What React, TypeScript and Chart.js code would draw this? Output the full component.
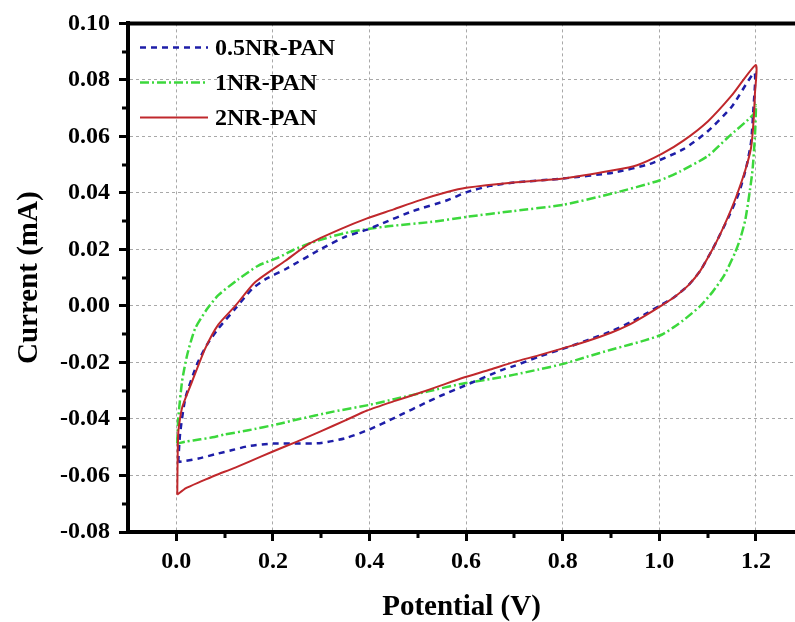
import React, { useEffect, useRef } from "react";
import { Chart, registerables } from "chart.js";

Chart.register(...registerables);

// ---- axis ticks ----
const xMajor = [0, 0.2, 0.4, 0.6, 0.8, 1.0, 1.2];
const xMinor = [0.1, 0.3, 0.5, 0.7, 0.9, 1.1];
const yMajor = [-0.08, -0.06, -0.04, -0.02, 0.0, 0.02, 0.04, 0.06, 0.08, 0.1];
const yMinor = [-0.07, -0.05, -0.03, -0.01, 0.01, 0.03, 0.05, 0.07, 0.09];

// ---- series labels ----
const seriesNames = ["0.5NR-PAN", "1NR-PAN", "2NR-PAN"];

// ---- 0.5NR-PAN (blue) ----
const blueUpperV = [0.004, 0.008, 0.019, 0.043, 0.064, 0.087, 0.122, 0.157, 0.184, 0.226, 0.3, 0.35, 0.395, 0.422, 0.49, 0.561, 0.6, 0.65, 0.7, 0.8, 0.905, 0.981, 1.05, 1.101, 1.15, 1.197];
const blueUpperI = [-0.0552, -0.045, -0.0325, -0.0206, -0.0136, -0.008, -0.001, 0.006, 0.0094, 0.013, 0.0202, 0.0245, 0.027, 0.0289, 0.0336, 0.0374, 0.0402, 0.0425, 0.0437, 0.0451, 0.0472, 0.0503, 0.0555, 0.0619, 0.0705, 0.0825];
const blueLowerV = [1.195, 1.19, 1.18, 1.165, 1.145, 1.125, 1.11, 1.085, 1.06, 1.03, 1.0, 0.97, 0.94, 0.9, 0.85, 0.8, 0.75, 0.7, 0.675, 0.6, 0.55, 0.522, 0.453, 0.4, 0.35, 0.3, 0.25, 0.2, 0.15, 0.116, 0.08, 0.046, 0.02, 0.004];
const blueLowerI = [0.07, 0.058, 0.049, 0.04, 0.032, 0.025, 0.02, 0.0125, 0.0073, 0.003, 0.0, -0.003, -0.0058, -0.009, -0.0122, -0.0152, -0.018, -0.0212, -0.0226, -0.028, -0.0316, -0.0338, -0.0395, -0.0437, -0.0468, -0.0485, -0.0487, -0.0487, -0.0496, -0.051, -0.0525, -0.054, -0.0548, -0.0552];

// ---- 1NR-PAN (green) ----
const greenUpperV = [0.002, 0.004, 0.012, 0.023, 0.039, 0.064, 0.087, 0.128, 0.17, 0.211, 0.242, 0.277, 0.32, 0.36, 0.4, 0.443, 0.526, 0.6, 0.698, 0.801, 0.905, 1.0, 1.043, 1.1, 1.143, 1.195, 1.2];
const greenUpperI = [-0.0486, -0.04, -0.0266, -0.017, -0.008, -0.001, 0.0038, 0.0094, 0.0143, 0.0171, 0.0198, 0.0222, 0.0245, 0.0262, 0.0273, 0.0283, 0.0297, 0.0315, 0.0336, 0.0358, 0.0399, 0.0444, 0.0476, 0.053, 0.0598, 0.0678, 0.071];
const greenLowerV = [1.198, 1.193, 1.186, 1.178, 1.168, 1.157, 1.135, 1.11, 1.085, 1.054, 1.03, 1.006, 0.97, 0.936, 0.9, 0.85, 0.799, 0.75, 0.7, 0.66, 0.592, 0.522, 0.453, 0.4, 0.325, 0.25, 0.211, 0.149, 0.1, 0.075, 0.05, 0.02, 0.004];
const greenLowerI = [0.06, 0.048, 0.039, 0.0304, 0.024, 0.0189, 0.011, 0.0049, 0.0, -0.0045, -0.0075, -0.0101, -0.0122, -0.0138, -0.0155, -0.018, -0.0206, -0.0225, -0.0243, -0.0256, -0.0275, -0.0302, -0.0329, -0.035, -0.0374, -0.0402, -0.0418, -0.044, -0.0455, -0.0465, -0.0472, -0.048, -0.0486];

// ---- 2NR-PAN (red) ----
const redUpperV = [0.002, 0.004, 0.012, 0.033, 0.06, 0.087, 0.122, 0.163, 0.226, 0.277, 0.34, 0.395, 0.45, 0.5, 0.561, 0.6, 0.698, 0.801, 0.905, 0.954, 1.006, 1.05, 1.101, 1.15, 1.2];
const redUpperI = [-0.0668, -0.045, -0.036, -0.0266, -0.015, -0.0066, 0.0, 0.0084, 0.016, 0.0222, 0.0272, 0.031, 0.0342, 0.0372, 0.0403, 0.0418, 0.0437, 0.0451, 0.048, 0.0498, 0.0539, 0.0585, 0.0654, 0.0745, 0.0853];
const redLowerV = [1.198, 1.195, 1.19, 1.178, 1.16, 1.143, 1.125, 1.11, 1.085, 1.06, 1.03, 1.006, 0.97, 0.936, 0.9, 0.85, 0.8, 0.75, 0.7, 0.65, 0.592, 0.55, 0.5, 0.453, 0.395, 0.35, 0.3, 0.25, 0.2, 0.15, 0.118, 0.08, 0.05, 0.02, 0.002];
const redLowerI = [0.075, 0.065, 0.056, 0.048, 0.039, 0.0318, 0.025, 0.02, 0.0125, 0.0073, 0.003, 0.0003, -0.0035, -0.0068, -0.0095, -0.0125, -0.015, -0.0175, -0.0198, -0.0225, -0.0255, -0.028, -0.031, -0.0336, -0.037, -0.0405, -0.0443, -0.048, -0.0515, -0.0552, -0.0575, -0.06, -0.0622, -0.0645, -0.0668];

const FONT = "'Liberation Serif', 'Times New Roman', serif";

function loop(uv: number[], ui: number[], lv: number[], li: number[]) {
  const pts = uv.map((v, k) => ({ x: v, y: ui[k] }));
  return pts.concat(lv.map((v, k) => ({ x: v, y: li[k] })));
}

const extrasPlugin = {
  id: "extras",
  afterDraw(chart: any) {
    const { ctx, chartArea, scales } = chart;
    const { left, right, top, bottom } = chartArea;
    ctx.save();
    // top frame
    ctx.strokeStyle = "#000";
    ctx.lineWidth = 4;
    ctx.beginPath();
    ctx.moveTo(left - 2, top);
    ctx.lineTo(right, top);
    ctx.stroke();
    // minor ticks
    ctx.lineWidth = 3;
    ctx.beginPath();
    for (const v of xMinor) {
      const px = Math.round(scales.x.getPixelForValue(v));
      ctx.moveTo(px, bottom);
      ctx.lineTo(px, bottom + 6);
    }
    for (const v of yMinor) {
      const py = Math.round(scales.y.getPixelForValue(v));
      ctx.moveTo(left, py);
      ctx.lineTo(left - 6, py);
    }
    ctx.stroke();
    // legend
    const rows = [41, 76, 111];
    chart.data.datasets.forEach((ds: any, k: number) => {
      const y = top + rows[k] - 17;
      ctx.strokeStyle = ds.borderColor;
      ctx.lineWidth = ds.borderWidth;
      ctx.setLineDash(ds.borderDash || []);
      ctx.beginPath();
      ctx.moveTo(left + 12, y);
      ctx.lineTo(left + 80, y);
      ctx.stroke();
      ctx.setLineDash([]);
      ctx.fillStyle = "#000";
      ctx.font = `bold 24px ${FONT}`;
      ctx.textBaseline = "middle";
      ctx.textAlign = "left";
      ctx.fillText(ds.label, left + 87, y + 1);
    });
    ctx.restore();
  },
};

export default function App() {
  const ref = useRef<HTMLCanvasElement | null>(null);

  useEffect(() => {
    if (!ref.current) return;
    const chart = new Chart(ref.current, {
      type: "scatter",
      data: {
        datasets: [
          {
            label: seriesNames[0],
            data: loop(blueUpperV, blueUpperI, blueLowerV, blueLowerI),
            borderColor: "#1e1ea8",
            borderWidth: 2.5,
            borderDash: [6, 5],
            showLine: true,
            pointRadius: 0,
            tension: 0.2,
            order: 1,
          },
          {
            label: seriesNames[1],
            data: loop(greenUpperV, greenUpperI, greenLowerV, greenLowerI),
            borderColor: "#3cd83c",
            borderWidth: 2.5,
            borderDash: [9, 3, 2, 3],
            showLine: true,
            pointRadius: 0,
            tension: 0.2,
            order: 2,
          },
          {
            label: seriesNames[2],
            data: loop(redUpperV, redUpperI, redLowerV, redLowerI),
            borderColor: "#c0282c",
            borderWidth: 2,
            borderDash: [],
            showLine: true,
            pointRadius: 0,
            tension: 0.2,
            order: 0,
          },
        ],
      },
      options: {
        animation: false,
        responsive: false,
        maintainAspectRatio: false,
        layout: { padding: { top: 17, right: 0, left: 0, bottom: 0 } },
        plugins: { legend: { display: false }, tooltip: { enabled: false } },
        scales: {
          x: {
            type: "linear",
            min: -0.1,
            max: 1.281,
            afterBuildTicks: (s: any) => {
              s.ticks = xMajor.map((v) => ({ value: v }));
            },
            afterFit: (s: any) => {
              s.height = 90;
            },
            ticks: {
              color: "#000",
              padding: 6,
              font: { family: FONT, size: 24, weight: "bold" },
              callback: (v: any) => Number(v).toFixed(1),
            },
            grid: {
              color: "#a8a8a8",
              lineWidth: 1,
              drawTicks: true,
              tickLength: 9,
              tickColor: "#000",
              tickWidth: 3,
            },
            border: { display: true, color: "#000", width: 4, dash: [3, 3] },
            title: {
              display: true,
              text: "Potential (V)",
              color: "#000",
              font: { family: FONT, size: 29, weight: "bold", lineHeight: 1 },
              padding: { top: 0, bottom: 0 },
            },
          },
          y: {
            type: "linear",
            min: -0.08,
            max: 0.1,
            afterBuildTicks: (s: any) => {
              s.ticks = yMajor.map((v) => ({ value: v }));
            },
            afterFit: (s: any) => {
              s.width = 128;
            },
            ticks: {
              color: "#000",
              padding: 9,
              font: { family: FONT, size: 24, weight: "bold" },
              callback: (v: any) => Number(v).toFixed(2),
            },
            grid: {
              color: "#a8a8a8",
              lineWidth: 1,
              drawTicks: true,
              tickLength: 9,
              tickColor: "#000",
              tickWidth: 3,
            },
            border: { display: true, color: "#000", width: 4, dash: [3, 3] },
            title: {
              display: true,
              text: "Current (mA)",
              color: "#000",
              font: { family: FONT, size: 29, weight: "bold", lineHeight: 1 },
              padding: { top: 15, bottom: 0 },
            },
          },
        },
      },
      plugins: [extrasPlugin],
    });
    return () => chart.destroy();
  }, []);

  return (
    <div style={{ position: "absolute", left: 0, top: 0, width: 795, height: 622, background: "#fff" }}>
      <canvas ref={ref} width={795} height={622} style={{ display: "block" }} />
    </div>
  );
}
